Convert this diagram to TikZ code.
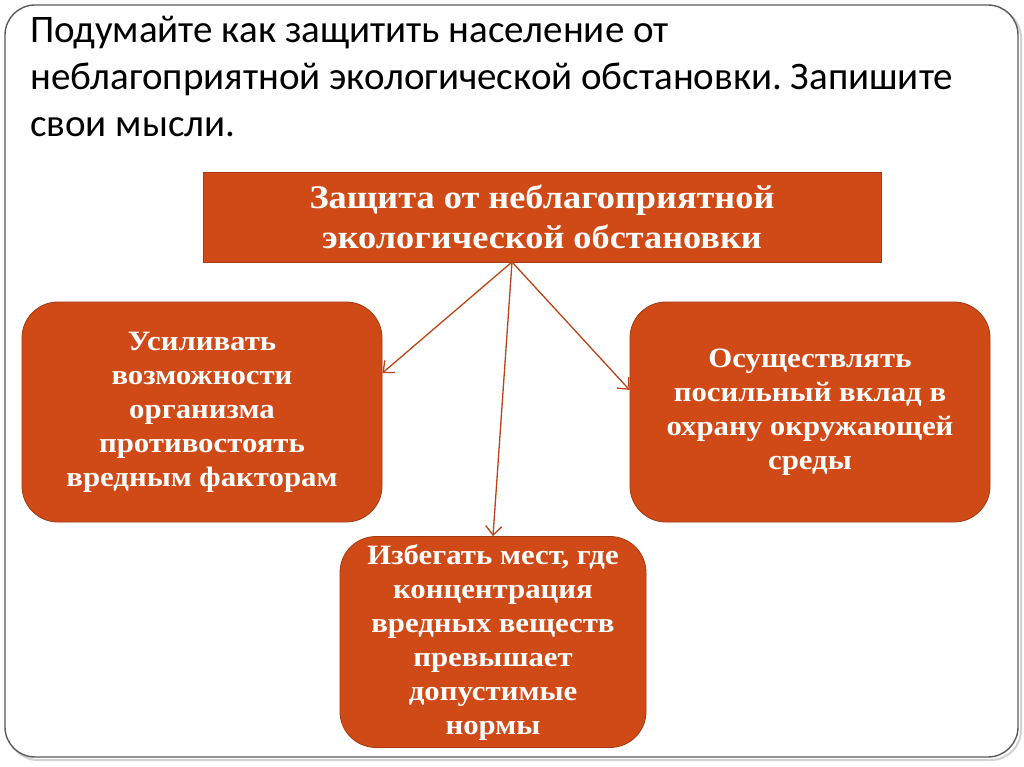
\documentclass[tikz,border=0pt]{standalone}
\usepackage{fontspec}
\setmainfont{Liberation Serif}
\newfontfamily\boxfont[FakeStretch=1.1]{Liberation Serif}
\newfontfamily\titlefont{Carlito}
\usetikzlibrary{arrows.meta}
\definecolor{boxfill}{HTML}{D04A17}
\definecolor{boxline}{HTML}{A33A12}
\definecolor{frameline}{HTML}{5A5A5A}
\frenchspacing
\begin{document}
\begin{tikzpicture}[
    x=1pt, y=-1pt,
    box/.style={draw=boxline, fill=boxfill, line width=0.8pt, align=center,
                text=white, font=\boxfont\bfseries\fontsize{28}{34}\selectfont,
                inner sep=0pt},
    rbox/.style={box, rounded corners=36pt},
    arrow/.style={-{Straight Barb[length=9pt,width=16pt]}, draw=boxfill!90!black,
                  line width=1.3pt}
]
\useasboundingbox (0,0) rectangle (1024,767);
% frame of the slide
\draw[line width=2pt, gray!35, rounded corners=30pt] (8,8) rectangle (1021,760);
\draw[line width=1.4pt, frameline, fill=white, rounded corners=30pt] (5,5) rectangle (1018,757);

\node[anchor=north west, align=left, inner sep=0pt,
      font=\titlefont\fontsize{39}{47}\selectfont] (title) at (30,16)
     {Подумайте как защитить население от\\
      неблагоприятной экологической обстановки. Запишите\\
      свои мысли.};

\node[box, minimum width=678pt, minimum height=90pt,
      font=\boxfont\bfseries\fontsize{33}{40}\selectfont] (top) at (542,217)
     {Защита от неблагоприятной\\экологической обстановки};

\node[rbox, minimum width=360pt, minimum height=220pt] (lft) at (202,412)
     {Усиливать\\возможности\\организма\\противостоять\\вредным факторам};
\node[rbox, minimum width=360pt, minimum height=220pt] (rgt) at (810,412)
     {Осуществлять\\посильный вклад в\\охрану окружающей\\среды};
\node[rbox, minimum width=306pt, minimum height=211pt] (bot) at (493,642)
     {Избегать мест, где\\концентрация\\вредных веществ\\превышает\\допустимые\\нормы};

\coordinate (src) at (512,262);
\draw[arrow] (src) -- ([yshift=39pt]lft.east);
\draw[arrow] (src) -- ([yshift=22pt]rgt.west);
\draw[arrow] (src) -- (bot.north);
\end{tikzpicture}
\end{document}
